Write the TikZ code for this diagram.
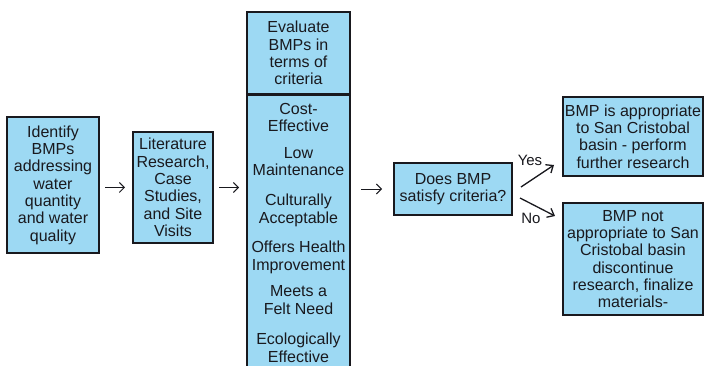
\documentclass[tikz,border=0pt]{standalone}
\usepackage{fontspec}
\setmainfont{Liberation Sans}
\usetikzlibrary{arrows.meta,calc}
\definecolor{boxblue}{RGB}{157,217,243}
\definecolor{ink}{RGB}{25,25,30}
\begin{document}
\begin{tikzpicture}[x=1pt,y=-1pt,
  box/.style={draw=ink, line width=2pt, fill=boxblue, inner sep=0pt, align=center, text=ink, font=\fontsize{16}{17.3}\selectfont},
  lbl/.style={inner sep=0pt, align=center, text=ink, font=\fontsize{16}{17.5}\selectfont},
  conn/.style={draw=ink, line width=0.9pt, -{Straight Barb[length=5pt,width=10pt]}},
  branch/.style={draw=ink, line width=1.3pt, -{Straight Barb[length=6pt,width=10pt]}}]
\useasboundingbox (0,0) rectangle (705,366);
\clip (0,0) rectangle (705,366);
\fill[white] (0,0) rectangle (705,366);

\node[box, minimum width=92pt, minimum height=136pt] (ident) at (53,185) {Identify\\BMPs\\addressing\\water\\quantity\\and water\\quality};
\node[box, minimum width=80pt, minimum height=111pt] (lit) at (173,187.5) {Literature\\Research,\\Case\\Studies,\\and Site\\Visits};
\node[box, minimum width=103pt, minimum height=82pt] (eval) at (298.5,53) {Evaluate\\BMPs in\\terms of\\criteria};
\node[box, minimum width=103pt, minimum height=280pt, anchor=north] (crit) at (298.5,94) {};

\node[lbl] (c1) at (298.5,117.5) {Cost-\\Effective};
\node[lbl] (c2) at (298.5,161.5) {Low\\Maintenance};
\node[lbl] (c3) at (298.5,210.5) {Culturally\\Acceptable};
\node[lbl] (c4) at (298.5,257.5) {Offers Health\\Improvement};
\node[lbl] (c5) at (298.5,300) {Meets a\\Felt Need};
\node[lbl] (c6) at (298.5,348) {Ecologically\\Effective};

\node[box, minimum width=118pt, minimum height=52pt] (q) at (453,189) {Does BMP\\satisfy criteria?};
\node[box, minimum width=140pt, minimum height=79pt] (yes) at (633,136.5) {BMP is appropriate\\to San Cristobal\\basin - perform\\further research};
\node[box, minimum width=140pt, minimum height=112pt] (no) at (633,259) {BMP not\\appropriate to San\\Cristobal basin\\discontinue\\research, finalize\\materials-};

\draw[conn, shorten <=5pt, shorten >=7pt] (ident.east |- lit.west) -- (lit.west);
\draw[conn, shorten <=5pt, shorten >=7pt] (lit.east) -- (lit.east -| crit.west);
\draw[conn, shorten <=10pt, shorten >=11pt] (crit.east |- q.west) -- (q.west);

\draw[branch] ([shift={(8,-2)}]q.east) -- ([shift={(-8,28.5)}]yes.west);
\draw[branch] ([shift={(7,9)}]q.east) -- ([shift={(-7,-43)}]no.west);
\node[lbl, font=\fontsize{15}{17}\selectfont] (yeslbl) at (530,160) {Yes};
\node[lbl, font=\fontsize{15}{17}\selectfont] (nolbl) at (531,218) {No};
\end{tikzpicture}
\end{document}
